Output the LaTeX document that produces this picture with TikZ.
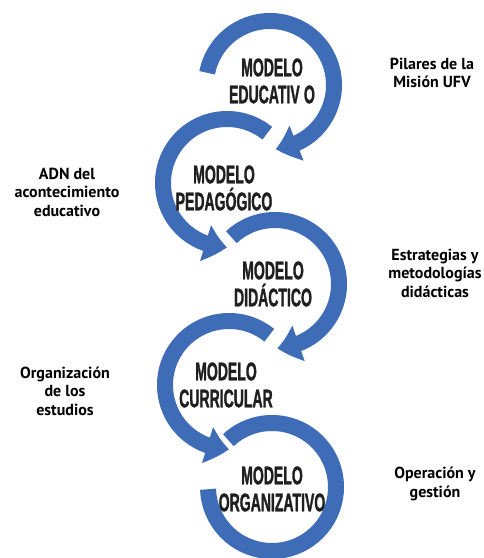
\documentclass[tikz,border=0pt]{standalone}
\usepackage{fontspec}
\setmainfont{PT Sans}
\newfontfamily\modfont[FakeStretch=0.55,FakeBold=1.2]{Liberation Sans}
\usetikzlibrary{arrows.meta,bending}
\definecolor{ringblue}{RGB}{62,108,182}
\begin{document}
\begin{tikzpicture}[x=1pt,y=1pt,
  ring/.style={draw=ringblue, line width=16pt},
  tipped/.style={ring, -{Triangle[width=36pt,length=22pt,bend]}},
  model/.style={font=\modfont\bfseries\fontsize{25.5}{27}\selectfont, align=center, text=black!88, inner sep=0pt},
  side/.style={font=\bfseries\fontsize{16}{18.5}\selectfont, align=center, inner sep=0pt}]
\useasboundingbox (0,0) rectangle (484,558);
\coordinate (c1) at (270,473);
\coordinate (c2) at (227,375);
\coordinate (c3) at (275,274);
\coordinate (c4) at (229,173);
\coordinate (c5) at (272,71);
% arcs
\draw[tipped] ([shift={(169:64)}]c1) arc[start angle=169, end angle=-85, radius=64];
\draw[tipped] ([shift={(51:64)}]c2) arc[start angle=51, end angle=270, radius=64];
\draw[tipped] ([shift={(133:64)}]c3) arc[start angle=133, end angle=-88, radius=64];
\draw[tipped] ([shift={(51:64)}]c4) arc[start angle=51, end angle=270, radius=64];
\draw[ring] ([shift={(133:64)}]c5) arc[start angle=133, end angle=-178, radius=64];
% model texts
\node[model] (m1) at (272,477) {MODELO\\EDUCATIV\,O};
\node[model] (m2) at (224,370) {MODELO\\PEDAGÓGICO};
\node[model] (m3) at (273,274) {MODELO\\DIDÁCTICO};
\node[model] (m4) at (226,173) {MODELO\\CURRICULAR};
\node[model] (m5) at (272,69) {MODELO\\ORGANIZATIVO};
% side labels
\node[side] (s1) at (432,485) {Pilares de la\\Misión UFV};
\node[side] (s2) at (67,366) {ADN del\\acontecimiento\\educativo};
\node[side] (s3) at (435,285) {Estrategias y\\metodologías\\didácticas};
\node[side] (s4) at (65,167) {Organización\\de los\\estudios};
\node[side] (s5) at (435,74) {Operación y\\gestión};
\end{tikzpicture}
\end{document}
